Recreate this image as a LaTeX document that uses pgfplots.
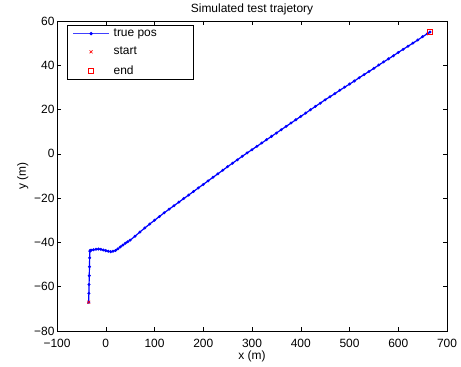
\documentclass[border=0pt]{standalone}
\usepackage{fontspec}
\setmainfont{Liberation Sans}
\usepackage{pgfplots}
\pgfplotsset{compat=1.18}
\begin{document}
\begin{tikzpicture}
\begin{axis}[
  name=ax,
  scale only axis,
  width=390bp, height=310bp,
  xmin=-100, xmax=700, ymin=-80, ymax=60,
  xtick={-100,0,100,200,300,400,500,600,700},
  xticklabels={−100,0,100,200,300,400,500,600,700},
  ytick={-80,-60,-40,-20,0,20,40,60},
  yticklabels={−80,−60,−40,−20,0,20,40,60},
  tick align=inside,
  major tick length=4bp,
  axis line style={line width=0.6pt},
  every tick/.style={line width=0.5pt, black},
  font=\fontsize{12}{14}\selectfont,
  ticklabel style={font=\fontsize{12}{14}\selectfont},
  xticklabel style={yshift=-4.5bp},
  yticklabel style={xshift=1bp},
  /pgf/number format/assume math mode=true,
  title={Simulated test trajetory},
  title style={font=\fontsize{12}{14}\selectfont, yshift=-3.5bp},
  xlabel={x (m)},
  ylabel={y (m)},
  xlabel style={yshift=3bp},
  ylabel style={yshift=-1bp},
  legend style={at={(0.0264,0.988)}, anchor=north west, draw=black, line width=0.6pt,
     font=\fontsize{12}{14}\selectfont, inner xsep=5bp, inner ysep=2bp, row sep=5bp},
  legend cell align=left,
  legend image code/.code={\draw[mark repeat=2,mark phase=2] plot coordinates {(0bp,0bp) (18bp,0bp) (36bp,0bp)};
     \path (38bp,0bp);},
]
\addplot[color={rgb,1:red,0;green,0;blue,1}, line width=1.2pt, mark=*, mark size=0.8pt, mark options={solid},
   legend image code/.code={\draw[draw={rgb,1:red,0.25;green,0.25;blue,1}, line width=1pt] (0bp,0bp) -- (36bp,0bp);
     \fill[blue] (18bp,0bp) circle (1pt); \path (38bp,0bp);}] coordinates {
(-35,-67) (-34.6,-63) (-34.2,-59) (-33.8,-55) (-33.4,-51) (-33,-47) (-32.5,-44) (-32,-43.6)
(-30,-43.5) (-25,-43.3) (-20,-43.1) (-15,-43.0) (-10,-43.1) (-5,-43.4) (0,-43.7) (5,-44.0)
(10,-44.2) (15,-44.0) (20,-43.6) (25,-42.9) (30,-42.0) (35,-41.2) (40,-40.4) (45,-39.7)
(50,-39.0) (60,-37.2) (70,-35.3) (80,-33.5) (90,-31.7) (100,-30.0) (110,-28.3) (120,-26.6)
(130,-25.0) (140,-23.4) (150,-21.8) (160,-20.2) (170,-18.6) (180,-17.0) (190,-15.4) (200,-13.8)
(210,-12.2) (220,-10.6) (230,-9.0) (240,-7.4) (250,-5.8) (260,-4.2) (270,-2.7) (280,-1.1)
(290,0.4) (300,1.9) (310,3.4) (320,4.9) (330,6.4) (340,7.9) (350,9.4) (360,10.9)
(370,12.4) (380,13.9) (390,15.4) (400,16.9) (410,18.4) (420,19.9) (430,21.4) (440,22.9)
(450,24.4) (460,25.8) (470,27.2) (480,28.7) (490,30.1) (500,31.5) (510,32.9) (520,34.4)
(530,35.8) (540,37.2) (550,38.6) (560,40.1) (570,41.5) (580,42.9) (590,44.3) (600,45.8)
(610,47.2) (620,48.6) (630,50.0) (640,51.4) (650,52.9) (660,54.3) (665,55.0)
};
\addlegendentry{true pos\makebox[29bp]{}}
\addplot[red, only marks, mark=x, mark size=2.1pt, line width=0.6pt] coordinates {(-35,-67)};
\addlegendentry{start}
\addplot[red, only marks, mark=square, mark size=2.6pt, line width=0.6pt] coordinates {(665,55)};
\addlegendentry{end}
\end{axis}
\pgfresetboundingbox
\path[use as bounding box] ([shift={(-57bp,-35bp)}]ax.south west) rectangle ([shift={(14bp,21bp)}]ax.north east);
\end{tikzpicture}
\end{document}
